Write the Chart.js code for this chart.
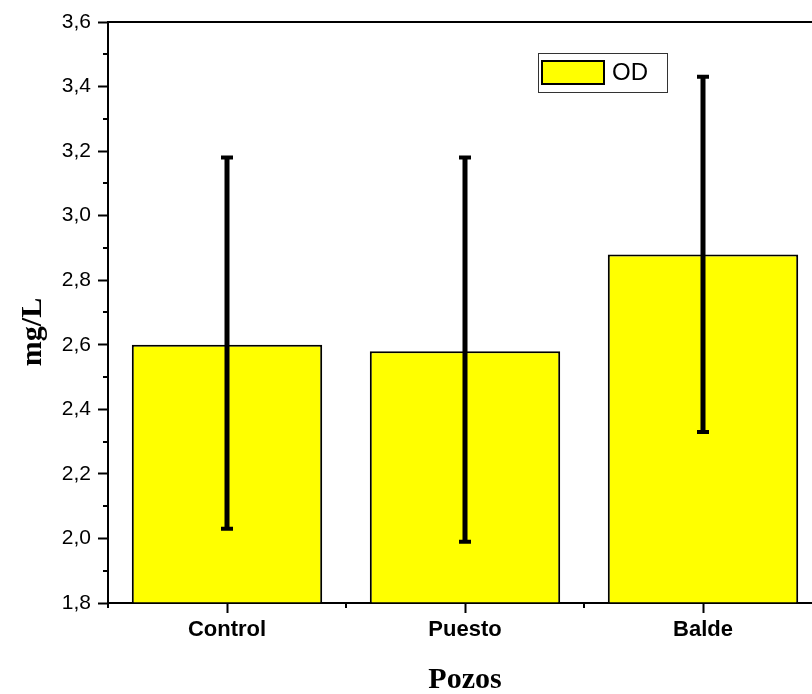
<!DOCTYPE html>
<html>
<head>
<meta charset="utf-8">
<script src="https://cdn.jsdelivr.net/npm/chart.js@4.4.1/dist/chart.umd.min.js"></script>
<style>
  html, body { margin: 0; padding: 0; background: #fff; overflow: hidden; }
  #wrap { width: 830px; height: 694px; }
</style>
</head>
<body>
<div id="wrap"><canvas id="myChart1" width="830" height="694"></canvas></div>
<script>
// Oxígeno disuelto por pozo
var categories = ["Control", "Puesto", "Balde"];
var odMeans = [2.60, 2.58, 2.88];
var errLow = [2.03, 1.99, 2.33];
var errHigh = [3.18, 3.18, 3.43];
var yMin = 1.8, yMax = 3.6, yStep = 0.2;

var fmt = function (v) { return v.toFixed(1).replace(".", ","); };

var originPlugin = {
  id: "originStyle",
  afterDatasetsDraw: function (chart) {
    var c = chart.ctx, a = chart.chartArea;
    var xs = chart.scales.x, ys = chart.scales.y;
    c.save();
    c.strokeStyle = "#000";
    c.lineWidth = 2;
    // top frame line
    c.beginPath();
    c.moveTo(a.left - 1, a.top);
    c.lineTo(a.right, a.top);
    c.stroke();
    // minor y ticks
    for (var v = yMin + yStep / 2; v < yMax; v += yStep) {
      var py = Math.round(ys.getPixelForValue(v));
      c.beginPath();
      c.moveTo(a.left - 5, py);
      c.lineTo(a.left, py);
      c.stroke();
    }
    // minor x ticks between categories
    for (var i = 0; i <= categories.length; i++) {
      var px = xs.getPixelForValue(i - 0.5);
      c.beginPath();
      c.moveTo(px, a.bottom);
      c.lineTo(px, a.bottom + 5);
      c.stroke();
    }
    // error bars
    c.lineWidth = 5;
    for (var j = 0; j < categories.length; j++) {
      var ex = xs.getPixelForValue(j);
      var yl = ys.getPixelForValue(errLow[j]);
      var yh = ys.getPixelForValue(errHigh[j]);
      c.beginPath();
      c.moveTo(ex, yl);
      c.lineTo(ex, yh);
      c.stroke();
      c.lineWidth = 4;
      c.beginPath();
      c.moveTo(ex - 6, yl);
      c.lineTo(ex + 6, yl);
      c.moveTo(ex - 6, yh);
      c.lineTo(ex + 6, yh);
      c.stroke();
      c.lineWidth = 5;
    }
    // legend box
    c.lineWidth = 1;
    c.strokeStyle = "#333";
    c.strokeRect(538.5, 53.5, 129, 39);
    c.fillStyle = "#ffff00";
    c.fillRect(542, 61, 62, 23);
    c.lineWidth = 2;
    c.strokeStyle = "#000";
    c.strokeRect(542, 61, 62, 23);
    c.fillStyle = "#000";
    c.font = "24px Arial, 'Liberation Sans', sans-serif";
    c.textAlign = "left";
    c.textBaseline = "middle";
    c.fillText("OD", 612, 73);
    // axis titles
    c.font = "bold 30px 'Times New Roman', 'Liberation Serif', serif";
    c.textAlign = "center";
    c.textBaseline = "alphabetic";
    c.fillText("Pozos", (a.left + 822) / 2, 688);
    c.translate(41, 332);
    c.rotate(-Math.PI / 2);
    c.fillText("mg/L", 0, 0);
    c.restore();
  }
};

var ctx = document.getElementById("myChart1").getContext("2d");
var chart = new Chart(ctx, {
  type: "bar",
  data: {
    labels: categories,
    datasets: [
      {
        label: "OD",
        backgroundColor: "#ffff00",
        borderColor: "#000",
        borderWidth: 2,
        base: yMin,
        barPercentage: 0.8,
        categoryPercentage: 1.0,
        data: odMeans
      }
    ]
  },
  options: {
    responsive: false,
    animation: false,
    layout: { padding: { top: 22, right: 8, left: 0, bottom: 0 } },
    plugins: {
      legend: { display: false },
      tooltip: { enabled: false }
    },
    scales: {
      x: {
        offset: true,
        grid: { drawOnChartArea: false, offset: false, tickLength: 10, tickWidth: 2, tickColor: "#000" },
        border: { display: true, color: "#000", width: 2 },
        ticks: {
          color: "#000",
          padding: 4,
          maxRotation: 0,
          font: { family: "Arial, 'Liberation Sans', sans-serif", size: 22, weight: "bold" }
        },
        afterFit: function (s) { s.height = 91; s.paddingLeft = 0; s.paddingRight = 0; }
      },
      y: {
        min: yMin,
        max: yMax,
        grid: { drawOnChartArea: false, tickLength: 10, tickWidth: 2, tickColor: "#000" },
        border: { display: true, color: "#000", width: 2 },
        ticks: {
          stepSize: yStep,
          color: "#000",
          padding: 7,
          font: { family: "Arial, 'Liberation Sans', sans-serif", size: 21 },
          callback: function (v) { return fmt(v); }
        },
        afterFit: function (s) { s.width = 108; s.paddingTop = 0; s.paddingBottom = 0; }
      }
    }
  },
  plugins: [originPlugin]
});
</script>
</body>
</html>
